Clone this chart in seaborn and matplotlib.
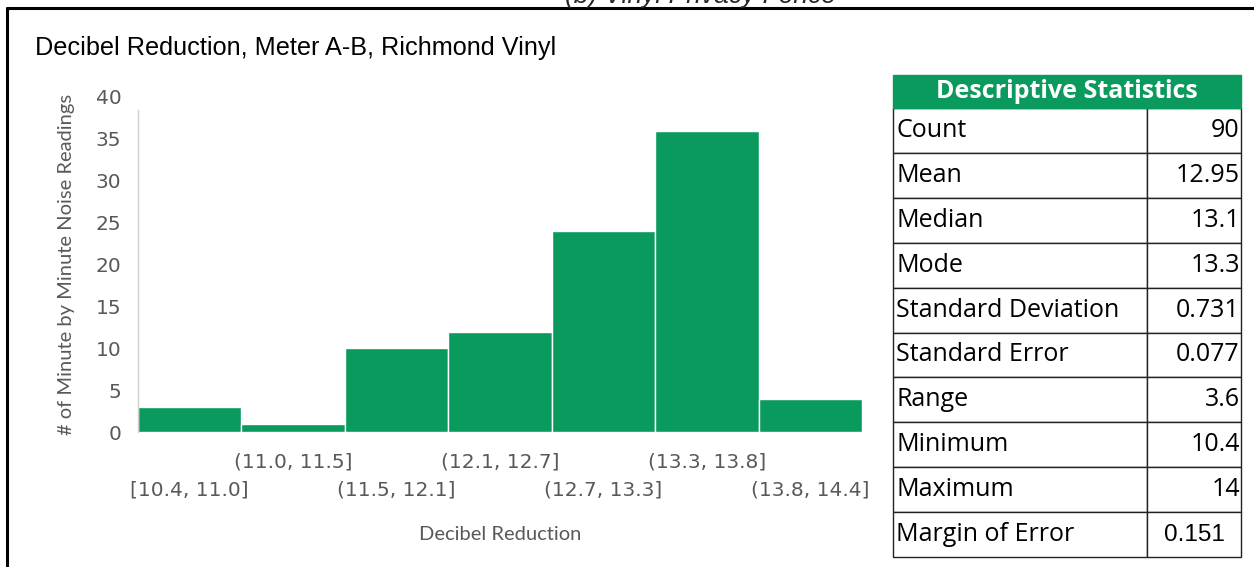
import matplotlib
matplotlib.use("Agg")
import matplotlib.pyplot as plt
from matplotlib.lines import Line2D
from matplotlib.patches import Rectangle
import seaborn as sns
import pandas as pd

# Histogram bins and counts
bins = ["[10.4, 11.0]", "(11.0, 11.5]", "(11.5, 12.1]", "(12.1, 12.7]",
        "(12.7, 13.3]", "(13.3, 13.8]", "(13.8, 14.4]"]
counts = [3, 1, 10, 12, 24, 36, 4]

# Descriptive statistics table
stat_names = ["Count", "Mean", "Median", "Mode", "Standard Deviation",
              "Standard Error", "Range", "Minimum", "Maximum", "Margin of Error"]
stat_values = ["90", "12.95", "13.1", "13.3", "0.731", "0.077",
               "3.6", "10.4", "14", "0.151"]

GREEN = "#0b9a5d"
GRAY = "#595959"

sns.set_theme(style="white")
plt.rcParams["font.family"] = ["DejaVu Sans"]

fig = plt.figure(figsize=(12.54, 5.67), dpi=100)
W, H = 1254, 567


def fx(px):
    return px / W


def fy(py):
    return 1 - py / H


# Outer frame (top and left edges) and the caption above it
fig.add_artist(Line2D([fx(7), 1.0], [fy(8), fy(8)], color="black", lw=2.2))
fig.add_artist(Line2D([fx(7), fx(7)], [fy(8), 0.0], color="black", lw=2.2))
fig.text(fx(700), fy(-4), "(b) Vinyl Privacy Fence", ha="center", va="center",
         fontsize=19, style="italic", family="Liberation Sans")

fig.text(fx(35), fy(48), "Decibel Reduction, Meter A-B, Richmond Vinyl",
         ha="left", va="center", fontsize=18.2, family="Liberation Sans",
         color="black")

# Histogram
ax = fig.add_axes([fx(138), fy(432), fx(862 - 138), (432 - 97) / H])
df = pd.DataFrame({"bin": bins, "count": counts})
sns.barplot(data=df, x="bin", y="count", color=GREEN, saturation=1,
            width=1.0, edgecolor="white", linewidth=1.0, ax=ax)
ax.set_xlim(-0.5, len(bins) - 0.5)
ax.set_ylim(0, 40)
ax.set_yticks(range(0, 41, 5))
ax.tick_params(axis="y", labelsize=14.5, labelcolor=GRAY, length=0, pad=12)
ax.tick_params(axis="x", labelsize=14.5, labelcolor=GRAY, length=0)
for i, tick in enumerate(ax.xaxis.get_major_ticks()):
    tick.set_pad(15 if i % 2 else 35)

for side in ["top", "right", "bottom"]:
    ax.spines[side].set_visible(False)
ax.spines["left"].set_color("#d0d0d0")
ax.spines["left"].set_linewidth(1.0)
ax.spines["left"].set_bounds(0, 38.5)

ax.set_xlabel("Decibel Reduction", fontsize=14.5, color=GRAY, family="Lato",
              labelpad=19)
ax.set_ylabel("# of Minute by Minute Noise Readings", fontsize=14.5,
              color=GRAY, family="Lato", labelpad=15)

# Statistics table
header_h, row_h = 33, 44.9
total_h = header_h + row_h * len(stat_names)
tax = fig.add_axes([fx(893), fy(557), fx(1241 - 893), total_h / H])
tax.axis("off")
tax.set_xlim(0, 1)
tax.set_ylim(0, 1)
cell_text = [[n, v] for n, v in zip(stat_names, stat_values)]
table = tax.table(cellText=cell_text, colWidths=[0.73, 0.27],
                  bbox=[0, 0, 1, 1 - header_h / total_h], cellLoc="left")
table.auto_set_font_size(False)
n_rows = len(cell_text)
for (r, c), cell in table.get_celld().items():
    cell.set_linewidth(1.0)
    cell.set_edgecolor("#222222")
    txt = cell.get_text()
    txt.set_fontsize(18)
    txt.set_family("Open Sans")
    txt.set_color("black")
    cell.PAD = 0.012
    if c == 1:
        txt.set_ha("right")
    if r == n_rows - 1 and c == 1:
        txt.set_ha("center")
        txt.set_family("Liberation Sans")
        txt.set_fontsize(17.5)

hb = 1 - header_h / total_h
tax.add_patch(Rectangle((0, hb), 1, 1 - hb, facecolor=GREEN, edgecolor=GREEN,
                        lw=1.0, transform=tax.transAxes, zorder=5,
                        clip_on=False))
tax.text(0.5, (1 + hb) / 2, "Descriptive Statistics",
         ha="center", va="center", color="white", fontsize=18,
         fontweight="bold", family="Open Sans", transform=tax.transAxes,
         zorder=6)

fig.savefig("out.png", dpi=100, facecolor="white")
